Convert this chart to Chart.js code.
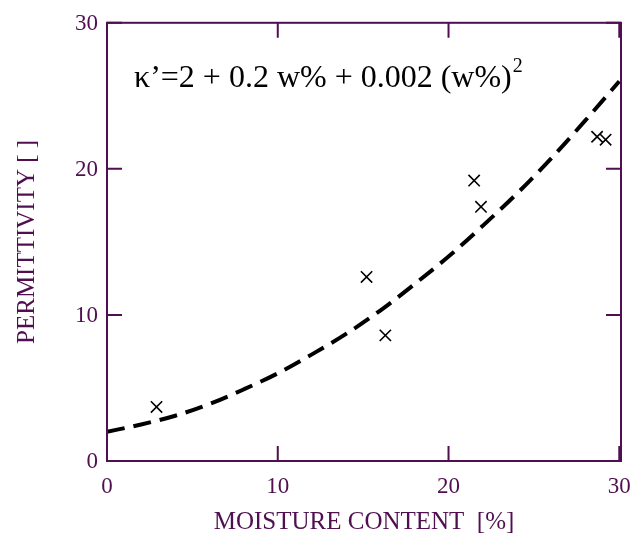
<!DOCTYPE html>
<html>
<head>
<meta charset="utf-8">
<script src="https://cdn.jsdelivr.net/npm/chart.js@4.4.0/dist/chart.umd.min.js"></script>
<style>
    html, body { margin: 0; padding: 0; background: #fff; }
    #wrap { width: 643px; height: 538px; }
</style>
</head>
<body>
<div id="wrap"><canvas id="chart" width="643" height="538"></canvas></div>
<script>
// measured samples (moisture %, permittivity)
const sampleX = [2.9, 15.2, 16.3, 21.5, 21.9, 28.7, 29.2];
const sampleY = [3.7, 12.6, 8.6, 19.2, 17.4, 22.2, 22.0];

// fitted curve
const fitX = [0, 2, 4, 6, 8, 10, 12, 14, 16, 18, 20, 22, 24, 26, 28, 30];
const fitY = [2.0, 2.5, 3.1, 3.9, 4.9, 6.0, 7.3, 8.7, 10.3, 12.1, 14.0, 16.1, 18.3, 20.7, 23.3, 26.0];

const xTicks = [0, 10, 20, 30];
const yTicks = [0, 10, 20, 30];

const equation = "\u03ba\u2019=2 + 0.2 w% + 0.002 (w%)";
const equationSup = "2";

const axisColor = "#4f0f50";
const serif = "'Liberation Serif', 'Times New Roman', serif";

// frame with inward ticks on all four sides, plus the equation
const framePlugin = {
    id: "frame",
    afterDraw(chart) {
        const ctx = chart.ctx;
        const a = chart.chartArea;
        const xs = chart.scales.x;
        const ys = chart.scales.y;
        const len = 15;
        ctx.save();
        ctx.strokeStyle = axisColor;
        ctx.lineWidth = 2;
        ctx.strokeRect(a.left, a.top, a.right - a.left, a.bottom - a.top);
        ctx.beginPath();
        xTicks.forEach(v => {
            const px = xs.getPixelForValue(v);
            ctx.moveTo(px, a.bottom); ctx.lineTo(px, a.bottom - len);
            ctx.moveTo(px, a.top); ctx.lineTo(px, a.top + len);
        });
        yTicks.forEach(v => {
            const py = ys.getPixelForValue(v);
            ctx.moveTo(a.left, py); ctx.lineTo(a.left + len, py);
            ctx.moveTo(a.right, py); ctx.lineTo(a.right - len, py);
        });
        ctx.stroke();

        ctx.fillStyle = "#000";
        ctx.textBaseline = "alphabetic";
        ctx.font = "32px " + serif;
        ctx.fillText(equation, 134, 87);
        const w = ctx.measureText(equation).width;
        ctx.font = "20px " + serif;
        ctx.fillText(equationSup, 134 + w + 1, 72);
        ctx.restore();
    }
};

const chart = new Chart(document.getElementById("chart"), {
    type: "scatter",
    data: {
        datasets: [
            {
                data: fitX.map((x, i) => ({ x: x, y: fitY[i] })),
                showLine: true,
                borderColor: "#000",
                borderWidth: 4,
                borderDash: [18, 9],
                pointRadius: 0,
                tension: 0.4,
                cubicInterpolationMode: "monotone"
            },
            {
                data: sampleX.map((x, i) => ({ x: x, y: sampleY[i] })),
                pointStyle: "crossRot",
                pointRadius: 8,
                borderColor: "#000",
                borderWidth: 1.6,
                backgroundColor: "#000"
            }
        ]
    },
    options: {
        responsive: false,
        animation: false,
        layout: { padding: { top: 15, right: 22, left: 0, bottom: 0 } },
        plugins: {
            legend: { display: false },
            tooltip: { enabled: false }
        },
        scales: {
            x: {
                type: "linear",
                min: 0,
                max: 30.1,
                afterBuildTicks: s => { s.ticks = xTicks.map(v => ({ value: v })); },
                afterFit: s => { s.height = 77; },
                grid: { display: false, drawTicks: false },
                border: { display: false },
                ticks: {
                    color: axisColor,
                    font: { family: serif, size: 23 },
                    padding: 12,
                    maxRotation: 0
                },
                title: {
                    display: true,
                    text: "MOISTURE CONTENT  [%]",
                    color: axisColor,
                    font: { family: serif, size: 25 },
                    padding: { top: 0, bottom: 1 }
                }
            },
            y: {
                type: "linear",
                min: 0,
                max: 30,
                afterBuildTicks: s => { s.ticks = yTicks.map(v => ({ value: v })); },
                afterFit: s => { s.width = 107; },
                grid: { display: false, drawTicks: false },
                border: { display: false },
                ticks: {
                    color: axisColor,
                    font: { family: serif, size: 23 },
                    padding: 9,
                    labelOffset: 1
                },
                title: {
                    display: true,
                    text: "PERMITTIVITY [ ]",
                    color: axisColor,
                    font: { family: serif, size: 25 },
                    padding: { top: 12, bottom: 0 }
                }
            }
        }
    },
    plugins: [framePlugin]
});
</script>
</body>
</html>
